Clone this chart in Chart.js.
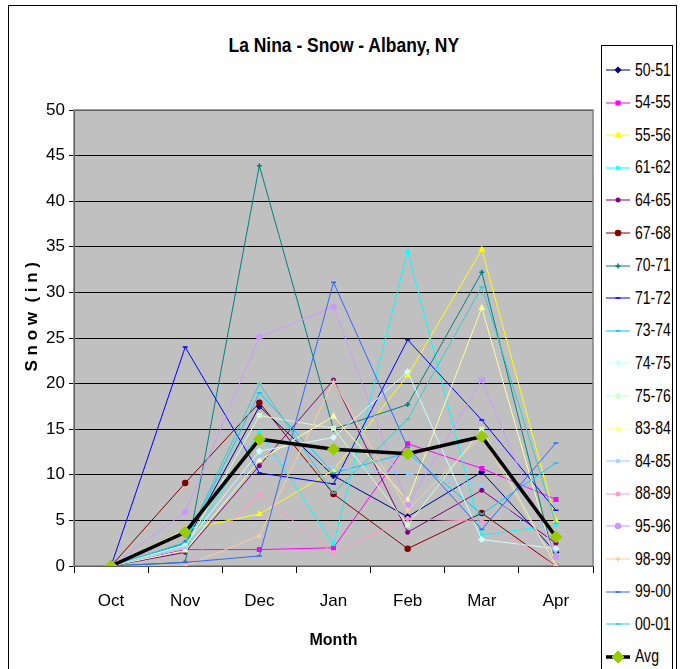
<!DOCTYPE html>
<html>
<head>
<meta charset="utf-8">
<script src="https://cdn.jsdelivr.net/npm/chart.js@4/dist/chart.umd.min.js"></script>
<style>
  body { margin: 0; background: #fff; }
  #wrap { position: relative; width: 681px; height: 669px; overflow: hidden; }
  #frame { position: absolute; left: 8px; top: 5px; width: 669px; height: 700px; border: 1px solid #000; box-sizing: border-box; }
  #title { position: absolute; left: 0; width: 688px; top: 33px; text-align: center;
           font: bold 21px "Liberation Sans", Arial, sans-serif; color: #000; }
  #title span { display: inline-block; transform: scaleX(0.83); }
  #legend { position: absolute; left: 601px; top: 45px; width: 72px; height: 700px; border: 1px solid #000;
            box-sizing: border-box; background: #fff; }
  .item { position: absolute; left: 3px; height: 20px; display: flex; align-items: center; white-space: nowrap;
          font: 18px "Liberation Sans", Arial, sans-serif; color: #000; }
  .item canvas { margin-right: 4px; }
  .item span { display: inline-block; transform: scaleX(0.78); transform-origin: left center; }
  canvas#chart { position: absolute; left: 0; top: 0; }
</style>
</head>
<body>
<div id="wrap">
  <div id="frame"></div>
  <div id="title"><span>La Nina - Snow - Albany, NY</span></div>
  <canvas id="chart" width="681" height="669"></canvas>
  <div id="legend"></div>
</div>
<script>
const months = ["Oct", "Nov", "Dec", "Jan", "Feb", "Mar", "Apr"];
const yTicks = [0, 5, 10, 15, 20, 25, 30, 35, 40, 45, 50];

const seasons = ["50-51", "54-55", "55-56", "61-62", "64-65", "67-68", "70-71", "71-72", "73-74",
                 "74-75", "75-76", "83-84", "84-85", "88-89", "95-96", "98-99", "99-00", "00-01"];

const s5051 = [0, 2.5, 17.5, 9.9, 5.4, 10.3, 1.5];
const s5455 = [0, 1.8, 1.8, 2.0, 13.4, 10.7, 7.3];
const s5556 = [0, 4.0, 5.7, 10.5, 20.9, 34.7, 5.0];
const s6162 = [0, 2.0, 14.7, 2.4, 34.5, 3.4, 4.5];
const s6465 = [0, 1.5, 11.0, 20.4, 3.7, 8.3, 2.5];
const s6768 = [0, 9.1, 17.9, 7.9, 1.9, 5.8, 0];
const s7071 = [0, 0.4, 43.9, 15.0, 17.7, 32.2, 0];
const s7172 = [0, 24.0, 10.2, 9.0, 24.8, 16.0, 6.1];
const s7374 = [0, 2.5, 19.0, 10.2, 12.4, 5.7, 11.3];
const s7475 = [0, 2.3, 12.6, 14.1, 21.3, 2.9, 1.9];
const s7576 = [0, 2.0, 16.5, 15.1, 4.5, 15.0, 0];
const s8384 = [0, 1.7, 11.6, 16.4, 7.2, 28.3, 0];
const s8485 = [0, 2.0, 12.0, 10.8, 10.1, 8.8, 1.5];
const s8889 = [0, 0, 7.9, 1.4, 5.2, 4.9, 0];
const s9596 = [0, 5.9, 25.1, 28.4, 6.7, 20.4, 1.0];
const s9899 = [0, 0, 3.3, 20.2, 6.1, 14.3, 0];
const s9900 = [0, 0.4, 1.1, 31.1, 13.0, 4.0, 13.5];
const s0001 = [0, 2.6, 20.0, 8.0, 16.1, 30.6, 4.7];
const avg = [0, 3.7, 13.9, 12.8, 12.3, 14.2, 3.2];

const seasonValues = [s5051, s5455, s5556, s6162, s6465, s6768, s7071, s7172, s7374,
                      s7475, s7576, s8384, s8485, s8889, s9596, s9899, s9900, s0001];

// Excel-style series colours and markers
const colors = ["#000080", "#FF00FF", "#FFFF00", "#00FFFF", "#800080", "#800000", "#008080", "#0000FF", "#00CCFF",
                "#CCFFFF", "#CCFFCC", "#FFFF99", "#99CCFF", "#FF99CC", "#CC99FF", "#FFCC99", "#3366FF", "#33CCCC"];
const markers = ["rectRot", "rect", "triangle", "crossRot", "star", "circle", "cross", "line", "line",
                 "rectRot", "rect", "triangle", "crossRot", "star", "circle", "cross", "line", "line"];

const datasets = seasons.map((name, i) => ({
    label: name,
    data: seasonValues[i],
    borderColor: colors[i],
    backgroundColor: colors[i],
    borderWidth: 1,
    pointStyle: markers[i],
    pointRadius: 2.5,
    pointBorderWidth: 1.5,
    order: seasons.length - i + 1
}));
datasets.push({
    label: "Avg",
    data: avg,
    borderColor: "#000000",
    backgroundColor: "#99CC00",
    borderWidth: 3.5,
    pointStyle: "rectRot",
    pointRadius: 6,
    pointBorderColor: "#99CC00",
    pointBorderWidth: 1,
    order: 0
});

const plotBg = {
    id: "plotBg",
    beforeDraw(chart) {
        const a = chart.chartArea, ctx = chart.ctx;
        ctx.save();
        ctx.fillStyle = "#C0C0C0";
        ctx.fillRect(a.left, a.top, a.right - a.left, a.bottom - a.top);
        ctx.restore();
    },
    beforeDatasetsDraw(chart) {
        const a = chart.chartArea, ctx = chart.ctx;
        ctx.save();
        ctx.strokeStyle = "#808080";
        ctx.lineWidth = 1.5;
        ctx.strokeRect(a.left, a.top, a.right - a.left, a.bottom - a.top);
        ctx.restore();
    }
};

const tickFont = { family: "'Liberation Sans', Arial, sans-serif", size: 17 };

new Chart(document.getElementById("chart"), {
    type: "line",
    data: { labels: months, datasets: datasets },
    plugins: [plotBg],
    options: {
        responsive: false,
        animation: false,
        layout: { padding: { left: 8, top: 110, right: 88, bottom: 8 } },
        plugins: { legend: { display: false }, title: { display: false }, tooltip: { enabled: false } },
        elements: { line: { tension: 0 } },
        scales: {
            x: {
                offset: true,
                grid: { offset: true, drawOnChartArea: false, color: "#000", tickLength: 7 },
                border: { color: "#000" },
                ticks: { color: "#000", font: tickFont, padding: 18 },
                title: { display: true, text: "Month", color: "#000",
                         font: { family: tickFont.family, size: 16, weight: "bold" }, padding: { top: 0, bottom: 11 } },
                afterFit(scale) { scale.height = 95; }
            },
            y: {
                min: 0, max: 50,
                afterBuildTicks(scale) { scale.ticks = yTicks.map(v => ({ value: v })); },
                grid: { color: "#000", tickLength: 5 },
                border: { color: "#000" },
                ticks: { color: "#000", font: tickFont, padding: 4 },
                title: { display: true, text: "         S n o w  ( i n )", color: "#000",
                         font: { family: tickFont.family, size: 17, weight: "bold" }, padding: { top: 14, bottom: 0 } },
                afterFit(scale) { scale.width = 66; }
            }
        }
    }
});

// legend built from the same datasets
const legend = document.getElementById("legend");
datasets.forEach((ds, i) => {
    const row = document.createElement("div");
    row.className = "item";
    row.style.top = (14 + i * 32.6) + "px";
    const c = document.createElement("canvas");
    c.width = 26; c.height = 16;
    const ctx = c.getContext("2d");
    ctx.strokeStyle = ds.borderColor;
    ctx.lineWidth = ds.borderWidth;
    ctx.beginPath(); ctx.moveTo(1, 8); ctx.lineTo(25, 8); ctx.stroke();
    const pt = { pointStyle: ds.pointStyle, radius: ds.pointRadius, rotation: 0, borderWidth: ds.pointBorderWidth };
    ctx.fillStyle = ds.backgroundColor;
    ctx.strokeStyle = ds.pointBorderColor || ds.borderColor;
    ctx.lineWidth = ds.pointBorderWidth;
    if (Chart.helpers && Chart.helpers.drawPoint) {
        Chart.helpers.drawPoint(ctx, pt, 13, 8);
    } else {
        ctx.fillRect(11, 6, 4, 4);
    }
    row.appendChild(c);
    const t = document.createElement("span");
    t.textContent = ds.label;
    row.appendChild(t);
    legend.appendChild(row);
});
</script>
</body>
</html>
